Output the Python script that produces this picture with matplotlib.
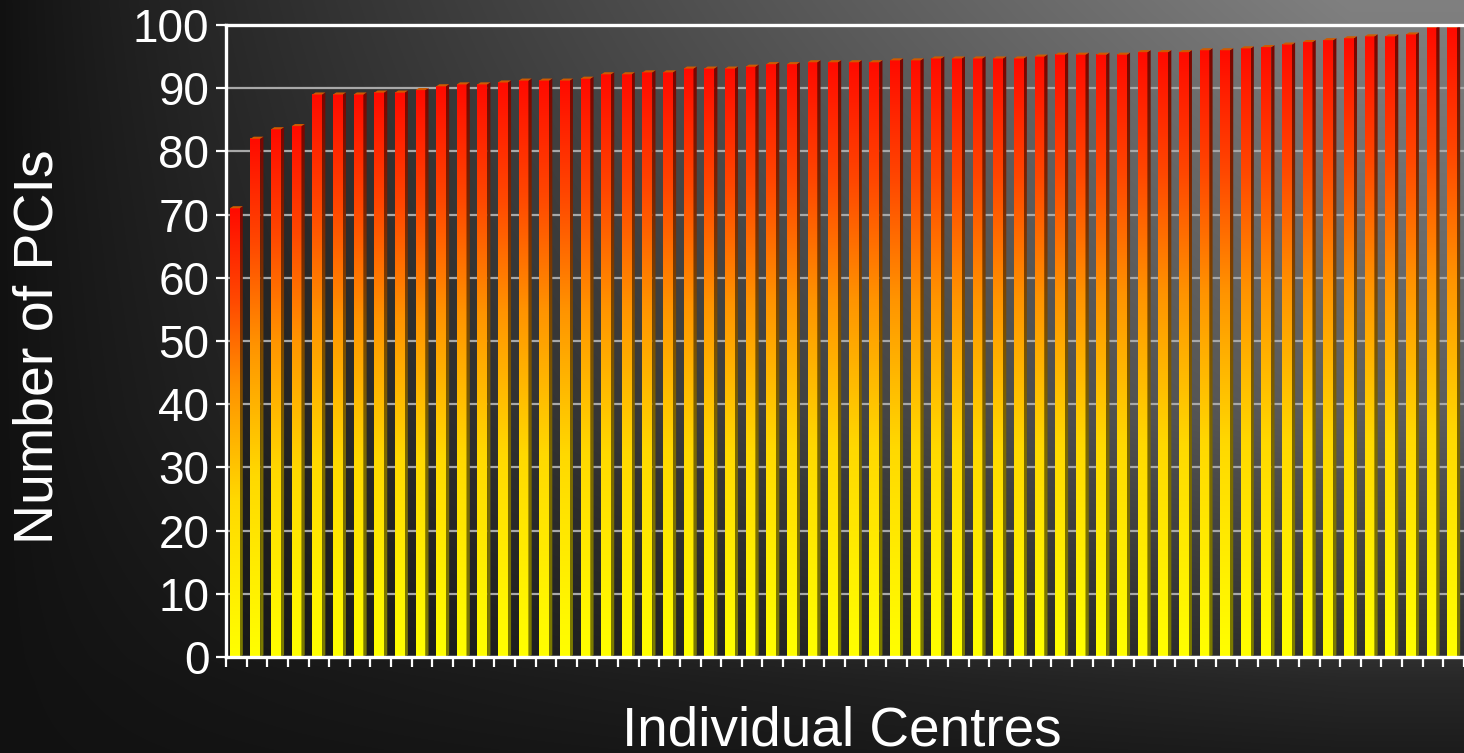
import numpy as np
import matplotlib
matplotlib.use("Agg")
import matplotlib.pyplot as plt
from matplotlib.patches import Polygon
from matplotlib.colors import LinearSegmentedColormap

# ---- data ----
centres = list(range(1, 61))
pcis = [71, 82, 83.5, 84, 89, 89, 89, 89.3, 89.3, 89.7,
        90.3, 90.6, 90.6, 90.9, 91.2, 91.2, 91.2, 91.5, 92.2, 92.2,
        92.5, 92.5, 93.1, 93.1, 93.1, 93.4, 93.8, 93.8, 94.1, 94.1,
        94.1, 94.1, 94.4, 94.4, 94.7, 94.7, 94.7, 94.7, 94.7, 95.0,
        95.3, 95.3, 95.3, 95.3, 95.7, 95.7, 95.7, 96.0, 96.0, 96.3,
        96.5, 96.9, 97.3, 97.6, 97.9, 98.2, 98.2, 98.5, 99.6, 99.6]
yticks = list(range(0, 101, 10))
ylabel = "Number of PCIs"
xlabel = "Individual Centres"

plt.rcParams['font.family'] = ['Liberation Sans', 'DejaVu Sans']

W, H = 1464, 753
fig = plt.figure(figsize=(W / 100, H / 100), dpi=100)

# ---- background gradient ----
bg = fig.add_axes([0, 0, 1, 1], zorder=-10)
xs = np.arange(W)
ys = np.arange(H)
hi = np.interp(ys, [0, 415, 657, 680, 753], [128, 92, 47, 40, 28])
lo = 17.0
s = np.clip(xs / 1350.0, 0, 1) ** 0.85
img = lo + (hi[:, None] - lo) * s[None, :]
img = np.clip(img / 255.0, 0, 1)
bg.imshow(np.dstack([img, img, img]), aspect='auto', extent=[0, 1, 0, 1],
          origin='upper', interpolation='bilinear')
bg.set_xlim(0, 1)
bg.set_ylim(0, 1)
bg.axis('off')

# ---- main axes ----
ax = fig.add_axes([226 / W, 1 - 657 / H, 1238 / W, 632 / H])
ax.patch.set_alpha(0)

front_cmap = LinearSegmentedColormap.from_list(
    'fr', [(0.0, (1, 1, 0)), (0.35, (1, 0.85, 0)), (0.6, (1, 0.58, 0)),
           (0.8, (1, 0.28, 0)), (1.0, (1, 0.04, 0))])
grad = np.linspace(0, 1, 256)[:, None]
front_rgb = front_cmap(grad)[:, :, :3]
side_rgb = front_rgb * 0.48

bw = 0.47      # front width (category units)
d = 0.16       # depth offset x
dy = 0.33      # depth offset y (value units)

for i, v in enumerate(pcis):
    xc = i - d / 2
    x0, x1 = xc - bw / 2, xc + bw / 2
    # front face
    ax.imshow(front_rgb, extent=[x0, x1, 0, v], origin='lower',
              aspect='auto', interpolation='bilinear', zorder=3)
    # side face
    side = Polygon([(x1, 0), (x1 + d, dy), (x1 + d, v + dy), (x1, v)],
                   closed=True, transform=ax.transData)
    im = ax.imshow(side_rgb, extent=[x1, x1 + d, 0, v + dy], origin='lower',
                   aspect='auto', interpolation='bilinear', zorder=3)
    im.set_clip_path(side)
    # top face
    top = Polygon([(x0, v), (x0 + d, v + dy), (x1 + d, v + dy), (x1, v)],
                  closed=True, facecolor='#d05a00', edgecolor='none', zorder=3.1)
    ax.add_patch(top)

ax.set_xlim(-0.5, len(pcis) - 0.5)
ax.set_ylim(0, 100)
ax.set_aspect('auto')

ax.set_yticks(yticks)
ax.set_yticklabels([str(t) for t in yticks])
ax.set_xticks(np.arange(-0.5, len(pcis), 1))
ax.set_xticklabels([])
ax.tick_params(axis='y', colors='white', labelsize=33, length=7, width=1.6,
               direction='out', pad=5)
ax.tick_params(axis='x', colors='white', length=7, width=1.6, direction='out')

ax.yaxis.grid(True, color='#a8a8a8', linewidth=1.6, zorder=1)
ax.xaxis.grid(False)
ax.set_axisbelow(True)

for side_name in ['left', 'bottom', 'top']:
    ax.spines[side_name].set_color('white')
    ax.spines[side_name].set_linewidth(2.4)
    ax.spines[side_name].set_zorder(5)
ax.spines['right'].set_visible(False)

fig.text(39 / W, 1 - 347 / H, ylabel, rotation=90, ha='center', va='center',
         color='white', fontsize=40)
fig.text(842 / W, 1 - 745 / H, xlabel, ha='center', va='baseline',
         color='white', fontsize=39.5)

fig.savefig('out.png', dpi=100)
